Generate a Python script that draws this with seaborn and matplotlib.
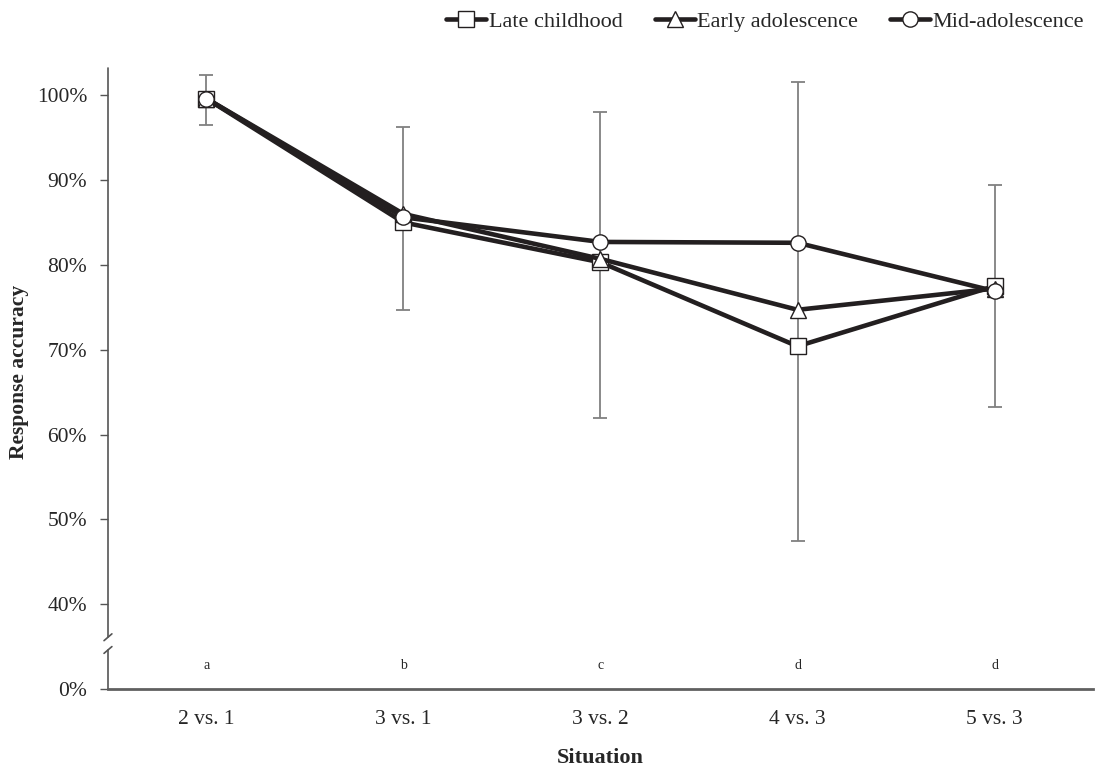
import numpy as np
import pandas as pd
import matplotlib
matplotlib.use("Agg")
import matplotlib.pyplot as plt
import seaborn as sns

situations = ["2 vs. 1", "3 vs. 1", "3 vs. 2", "4 vs. 3", "5 vs. 3"]
groups = ["Late childhood", "Early adolescence", "Mid-adolescence"]
late_childhood = [99.6, 85.0, 80.3, 70.4, 77.5]
early_adolescence = [99.6, 86.0, 80.7, 74.7, 77.2]
mid_adolescence = [99.6, 85.6, 82.7, 82.6, 76.9]
err_low = [96.5, 74.7, 61.9, 47.5, 63.2]
err_high = [102.4, 96.2, 98.0, 101.5, 89.4]
letters = ["a", "b", "c", "d", "d"]
ytick_vals = [30, 40, 50, 60, 70, 80, 90, 100]
ytick_labels = ["0%", "40%", "50%", "60%", "70%", "80%", "90%", "100%"]

sns.set_theme(style="white")
plt.rcParams["font.family"] = ["Liberation Serif", "DejaVu Serif"]

xpos = np.arange(len(situations))
df = pd.DataFrame({
    "x": np.tile(xpos, 3),
    "value": late_childhood + early_adolescence + mid_adolescence,
    "group": np.repeat(groups, len(situations)),
})

fig = plt.figure(figsize=(10.96, 7.67), dpi=100)
ax = fig.add_axes([0.0985, 0.1017, 0.8988, 0.8096])

# error bars
lo = np.array(err_low)
hi = np.array(err_high)
mid = (lo + hi) / 2
ax.errorbar(xpos, mid, yerr=[mid - lo, hi - mid],
            fmt="none", ecolor="#808080", elinewidth=1.3, capsize=5, capthick=1.3, zorder=1)

line_color = "#231f20"
sns.lineplot(data=df, x="x", y="value", hue="group", style="group",
             hue_order=groups, style_order=groups,
             palette=[line_color] * 3,
             markers={"Late childhood": "s", "Early adolescence": "^", "Mid-adolescence": "o"},
             dashes=False, linewidth=3.3, markersize=11,
             markerfacecolor="white", markeredgecolor=line_color, markeredgewidth=1.0,
             ax=ax, zorder=3, legend=True)

ax.set_xlim(-0.5, len(situations) - 0.5)
ax.set_ylim(30, 103.2)
ax.set_xticks(xpos)
ax.set_xticklabels(situations, fontsize=15.5)
ax.set_yticks(ytick_vals)
ax.set_yticklabels(ytick_labels, fontsize=15.5)
ax.tick_params(axis="x", length=0, pad=15)
ax.tick_params(axis="y", length=6, width=1, color="#555555", direction="out", pad=9, left=True)

for s in ["top", "right", "left"]:
    ax.spines[s].set_visible(False)
ax.spines["bottom"].set_color("#606060")
ax.spines["bottom"].set_linewidth(2)

# left spine with break
tr = ax.get_yaxis_transform()
ax.plot([0, 0], [30, 34.6], transform=tr, color="#555555", lw=1.2, clip_on=False, zorder=2)
ax.plot([0, 0], [36.1, 103.2], transform=tr, color="#555555", lw=1.2, clip_on=False, zorder=2)
dx = 0.004
ax.plot([-dx, dx], [34.2, 35.0], transform=tr, color="#555555", lw=1.2, clip_on=False)
ax.plot([-dx, dx], [35.7, 36.5], transform=tr, color="#555555", lw=1.2, clip_on=False)

for xi, lt in zip(xpos, letters):
    ax.text(xi, 32.8, lt, ha="center", va="center", fontsize=10)

ax.set_xlabel("Situation", fontsize=16, fontweight="bold", labelpad=14)
ax.set_ylabel("Response accuracy", fontsize=15.5, fontweight="bold")
ax.yaxis.set_label_coords(-0.08, 0.51)

handles, labels = ax.get_legend_handles_labels()
ax.get_legend().remove()
fig.legend(handles, labels, loc="upper right", bbox_to_anchor=(1.003, 1.005), ncol=3,
           frameon=False, fontsize=16, handlelength=1.8, handletextpad=0.1,
           columnspacing=1.45, borderaxespad=0.3)

fig.savefig("out.png", dpi=100)
